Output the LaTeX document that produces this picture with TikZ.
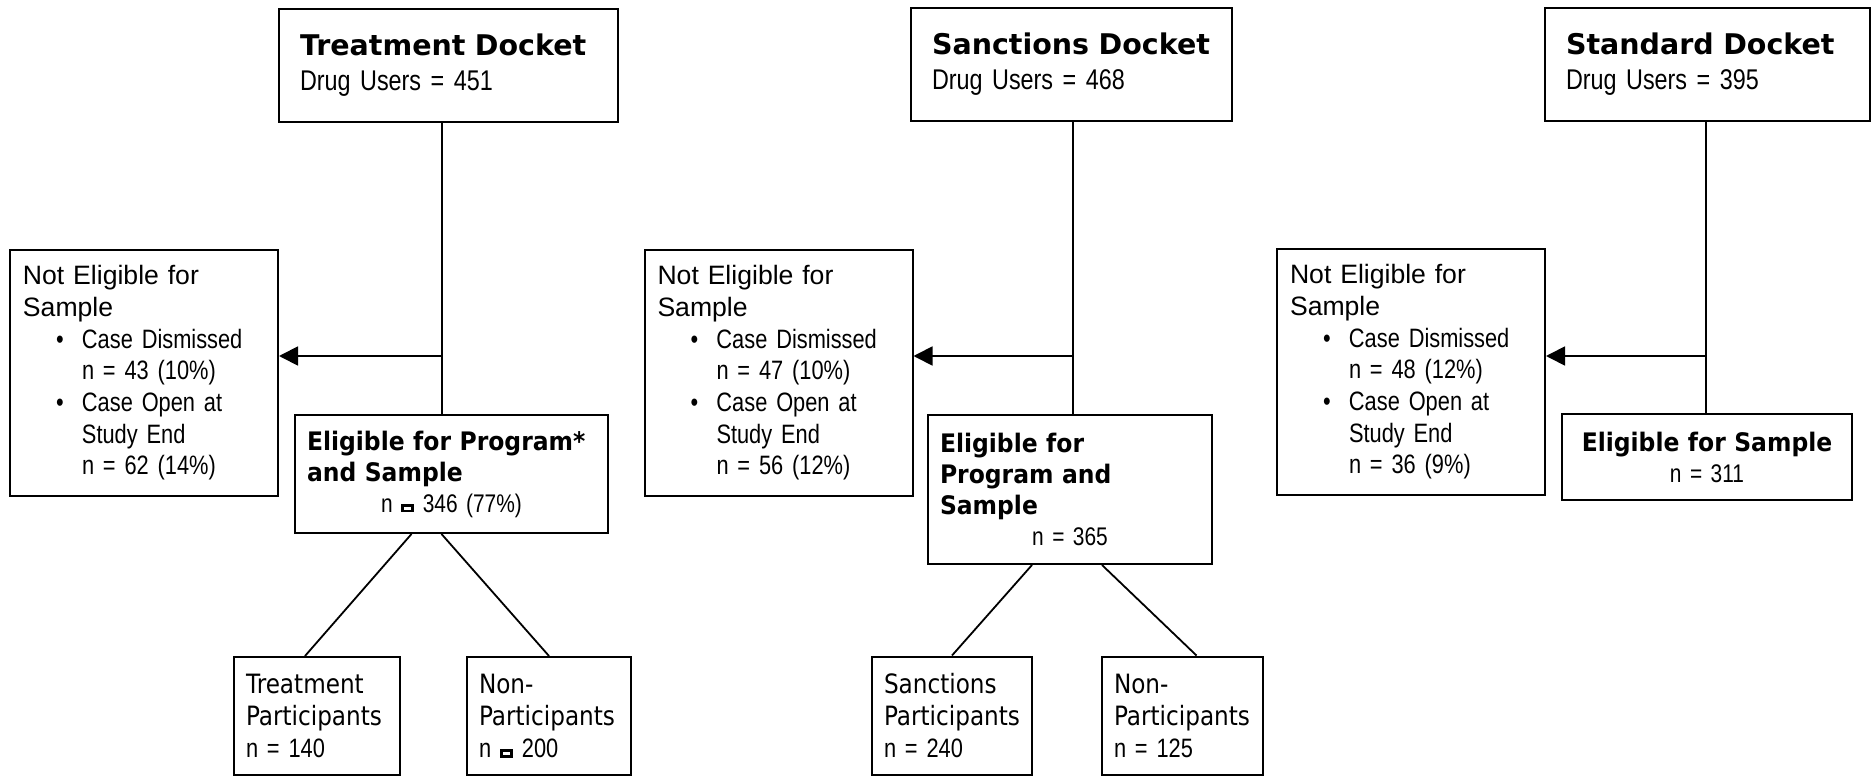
\documentclass[tikz,border=0pt]{standalone}
\usepackage{fontspec}
\setmainfont{Liberation Sans}
\newfontfamily\narrowfont{Liberation Sans}[FakeStretch=0.82]
\newfontfamily\headfont{DejaVu Sans}
\newfontfamily\eligfont{DejaVu Sans}[FakeStretch=0.92]
\newfontfamily\leaffont{DejaVu Sans}[FakeStretch=0.87]
\usetikzlibrary{arrows.meta,calc}

% bullet lines of the "not eligible" boxes
\newcommand{\caseitem}[1]{{\narrowfont\makebox[59pt][l]{\hspace{33pt}\textbullet}#1}}
\newcommand{\caseval}[1]{{\narrowfont\hspace*{59pt}#1}}
% the blotted equals sign of the scan
\newcommand{\eqmark}{\raisebox{2.4pt}{\fboxsep=0pt\fboxrule=2.8pt\fbox{\rule{7.5pt}{0pt}\rule{0pt}{3pt}}}}

\begin{document}
\begin{tikzpicture}[x=1pt, y=-1pt,
  docket/.style={draw, line width=2pt, inner xsep=21pt, align=left,
                 minimum height=112pt, font=\fontsize{28.5}{35}\selectfont},
  notelig/.style={draw, line width=2pt, inner xsep=13pt, align=left, text width=242pt,
                  minimum height=246pt, font=\fontsize{26.6}{31.7}\selectfont},
  elig/.style={draw, line width=2pt, inner xsep=12pt, align=left,
               font=\fontsize{25.5}{31}\selectfont},
  leaf/.style={draw, line width=2pt, inner xsep=12pt, align=left,
               minimum height=118pt, font=\fontsize{26.6}{32}\selectfont},
  link/.style={line width=1.8pt},
  outarr/.style={link, -{Triangle[length=19pt,width=19pt]}},
]
\useasboundingbox (0,0) rectangle (1875,776);

% treatment docket
\node[docket, text width=297pt] (dockT) at (448.5,65.5)
  {\mbox{\headfont\bfseries Treatment Docket}\\{\narrowfont Drug Users = 451}};
\node[notelig] (notT) at (144,373)
  {Not Eligible for\\Sample\\\caseitem{Case Dismissed}\\\caseval{n = 43 (10\%)}\\
   \caseitem{Case Open at}\\\caseval{Study End}\\\caseval{n = 62 (14\%)}};
\node[elig, text width=289pt, minimum height=118pt] (eligT) at (451.5,474)
  {\mbox{\eligfont\bfseries Eligible for Program*}\\\mbox{\eligfont\bfseries and Sample}\\
   \makebox[\hsize]{\narrowfont n \eqmark{} 346 (77\%)}};
\node[leaf, text width=142pt] (partT) at (317,716)
  {{\leaffont Treatment\\Participants}\\{\narrowfont n = 140}};
\node[leaf, text width=140pt] (nonT) at (549,716)
  {{\leaffont Non-\\Participants}\\{\narrowfont n \eqmark{} 200}};
\coordinate (teeT) at (442,356);
\draw[link] (teeT |- dockT.south) -- (teeT |- eligT.north);
\draw[outarr] (teeT) -- (teeT -| notT.east);
\draw[link] ($(eligT.south)+(-40,0)$) -- ($(partT.north)+(-12,0)$);
\draw[link] ($(eligT.south)+(-10,0)$) -- (nonT.north);

% sanctions docket
\node[docket, text width=279pt] (dockS) at (1071.5,64.5)
  {\mbox{\headfont\bfseries Sanctions Docket}\\{\narrowfont Drug Users = 468}};
\node[notelig] (notS) at (778.5,373)
  {Not Eligible for\\Sample\\\caseitem{Case Dismissed}\\\caseval{n = 47 (10\%)}\\
   \caseitem{Case Open at}\\\caseval{Study End}\\\caseval{n = 56 (12\%)}};
\node[elig, text width=260pt, minimum height=149pt] (eligS) at (1070,489.5)
  {{\eligfont\bfseries Eligible for\\Program and\\Sample}\\
   \makebox[\hsize]{\narrowfont n = 365}};
\node[leaf, text width=136pt] (partS) at (952,715.5)
  {{\leaffont Sanctions\\Participants}\\{\narrowfont n = 240}};
\node[leaf, text width=137pt] (nonS) at (1182.5,715.5)
  {{\leaffont Non-\\Participants}\\{\narrowfont n = 125}};
\coordinate (teeS) at (1073,356);
\draw[link] (teeS |- dockS.south) -- (teeS |- eligS.north);
\draw[outarr] (teeS) -- (teeS -| notS.east);
\draw[link] ($(eligS.south)+(-38,0)$) -- (partS.north);
\draw[link] ($(eligS.south)+(32,0)$) -- ($(nonS.north)+(14,0)$);

% standard docket
\node[docket, text width=283pt] (dockSt) at (1707.5,64.5)
  {\mbox{\headfont\bfseries Standard Docket}\\{\narrowfont Drug Users = 395}};
\node[notelig] (notSt) at (1411,372)
  {Not Eligible for\\Sample\\\caseitem{Case Dismissed}\\\caseval{n = 48 (12\%)}\\
   \caseitem{Case Open at}\\\caseval{Study End}\\\caseval{n = 36 (9\%)}};
\node[elig, align=center, text width=266pt, minimum height=86pt] (eligSt) at (1707,457)
  {\mbox{\eligfont\bfseries Eligible for Sample}\\{\narrowfont n = 311}};
\coordinate (teeSt) at (1706,356);
\draw[link] (teeSt |- dockSt.south) -- (teeSt |- eligSt.north);
\draw[outarr] (teeSt) -- (teeSt -| notSt.east);
\end{tikzpicture}
\end{document}
